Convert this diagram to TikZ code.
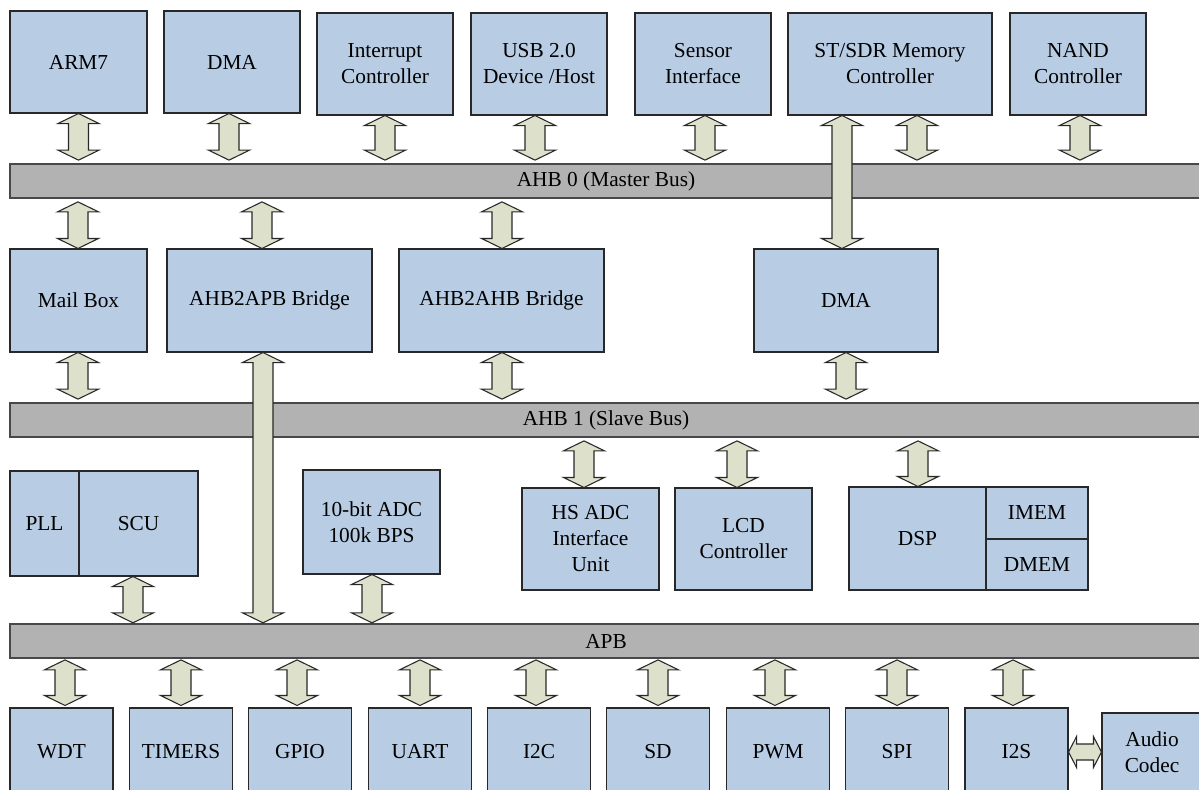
\documentclass[tikz,border=0pt]{standalone}
\usepackage{fontspec}
\setmainfont{Liberation Serif}
\usetikzlibrary{calc}
\definecolor{blockfill}{RGB}{184,204,228}
\definecolor{busfill}{RGB}{178,178,178}
\definecolor{linkfill}{RGB}{221,224,203}
\definecolor{edgeline}{RGB}{40,40,40}
\tikzset{
  sz/.style 2 args={minimum width=#1*0.75pt, minimum height=#2*0.75pt},
  block/.style={draw=edgeline, fill=blockfill, line width=0.8pt, inner sep=0pt,
    align=center, font=\fontsize{16}{19.5}\selectfont},
  bus/.style={draw=edgeline!85, fill=busfill, line width=0.8pt, inner sep=0pt,
    font=\fontsize{16}{19.5}\selectfont},
  dblarrow/.style={draw=edgeline, fill=linkfill, line width=0.8pt, line join=miter},
}
% vertical block arrow: #1 upper end, #2 lower end (x taken from #1),
% #3 / #4 gaps left free at the upper / lower end
\newcommand\vfat[4]{%
  \path[dblarrow] let \p1=(#1), \p2=(#2) in
   (\x1,\y1-#3) -- (\x1+15.4pt,\y1-#3-7.5pt) -- (\x1+7.5pt,\y1-#3-7.5pt)
   -- (\x1+7.5pt,\y2+#4+7.5pt) -- (\x1+15.4pt,\y2+#4+7.5pt) -- (\x1,\y2+#4)
   -- (\x1-15.4pt,\y2+#4+7.5pt) -- (\x1-7.5pt,\y2+#4+7.5pt)
   -- (\x1-7.5pt,\y1-#3-7.5pt) -- (\x1-15.4pt,\y1-#3-7.5pt) -- cycle;}
% horizontal block arrow: #1 left end, #2 right end (y taken from #1)
\newcommand\hfat[2]{%
  \path[dblarrow] let \p1=(#1), \p2=(#2) in
   (\x1,\y1) -- (\x1+6pt,\y1+11.6pt) -- (\x1+6pt,\y1+6pt)
   -- (\x2-6pt,\y1+6pt) -- (\x2-6pt,\y1+11.6pt) -- (\x2,\y1)
   -- (\x2-6pt,\y1-11.6pt) -- (\x2-6pt,\y1-6pt)
   -- (\x1+6pt,\y1-6pt) -- (\x1+6pt,\y1-11.6pt) -- cycle;}

\begin{document}
\begin{tikzpicture}[x=0.75pt,y=-0.75pt]
\useasboundingbox (0,0) rectangle (1199,789);
\fill[white] (0,0) rectangle (1199,789);
\clip (0,0) rectangle (1199,789);

% ---- masters on top
\node[block, sz={137}{102}] (arm)    at (78.5,62) {ARM7};
\node[block, sz={136}{102}] (dmaA)   at (232,62)  {DMA};
\node[block, sz={136}{102}] (intc)   at (385,64)  {Interrupt\\Controller};
\node[block, sz={136}{102}] (usb)    at (539,64)  {USB 2.0\\Device /Host};
\node[block, sz={136}{102}] (sensor) at (703,64)  {Sensor\\Interface};
\node[block, sz={204}{102}] (sdr)    at (890,64)  {ST/SDR Memory\\Controller};
\node[block, sz={136}{102}] (nand)   at (1078,64) {NAND\\Controller};

% ---- buses
\node[bus, sz={1192}{34}] (ahb0) at (606,181) {AHB 0 (Master Bus)};
\node[bus, sz={1192}{34}] (ahb1) at (606,420) {AHB 1 (Slave Bus)};
\node[bus, sz={1192}{34}] (apb)  at (606,641) {APB};

% ---- bridges
\node[block, sz={137}{103}] (mbox)  at (78.5,300.5)  {Mail Box};
\node[block, sz={205}{103}] (a2apb) at (269.5,300.5) {AHB2APB Bridge};
\node[block, sz={205}{103}] (a2ahb) at (501.5,300.5) {AHB2AHB Bridge};
\node[block, sz={184}{103}] (dmaB)  at (846,300.5)   {DMA};

% ---- slaves between AHB 1 and APB
\node[block, sz={69}{105}]  (pll)   at (44.5,523.5)  {PLL};
\node[block, sz={119}{105}] (scu)   at (138.5,523.5) {SCU};
\node[block, sz={137}{104}] (adc)   at (371.5,522)   {10-bit ADC\\100k BPS};
\node[block, sz={137}{102}] (hsadc) at (590.5,539)   {HS ADC\\Interface\\Unit};
\node[block, sz={137}{102}] (lcd)   at (743.5,539)   {LCD\\Controller};
\node[block, sz={137}{103}] (dsp)   at (917.5,538.5) {DSP};
\node[block, sz={102}{52}]  (imem)  at (1037,513)    {IMEM};
\node[block, sz={102}{51}]  (dmem)  at (1037,564.5)  {DMEM};

% ---- peripherals on APB
\node[block, sz={103}{88}] (wdt)    at (61.5,752) {WDT};
\node[block, sz={103}{88}] (timers) at (181,752)  {TIMERS};
\node[block, sz={103}{88}] (gpio)   at (300,752)  {GPIO};
\node[block, sz={103}{88}] (uart)   at (420,752)  {UART};
\node[block, sz={103}{88}] (iic)    at (539,752)  {I2C};
\node[block, sz={103}{88}] (sd)     at (658,752)  {SD};
\node[block, sz={103}{88}] (pwm)    at (778,752)  {PWM};
\node[block, sz={103}{88}] (spi)    at (897,752)  {SPI};
\node[block, sz={103}{88}] (iis)    at (1016.5,752) {I2S};
\node[block, sz={100}{78}] (codec)  at (1152,752) {Audio\\Codec};

% ---- block arrows: masters <-> AHB 0
\vfat{arm.south}{ahb0.north}{0pt}{2.5pt}
\vfat{dmaA.south -| 229,0}{ahb0.north}{0pt}{2.5pt}
\vfat{intc.south}{ahb0.north}{0pt}{2.5pt}
\vfat{usb.south -| 535,0}{ahb0.north}{0pt}{2.5pt}
\vfat{sensor.south -| 705,0}{ahb0.north}{0pt}{2.5pt}
\vfat{sdr.south -| 917,0}{ahb0.north}{0pt}{2.5pt}
\vfat{nand.south -| 1080,0}{ahb0.north}{0pt}{2.5pt}

% ---- AHB 0 <-> bridges
\vfat{ahb0.south -| 78,0}{mbox.north}{2.5pt}{0pt}
\vfat{ahb0.south -| 262,0}{a2apb.north}{2.5pt}{0pt}
\vfat{ahb0.south -| 502,0}{a2ahb.north}{2.5pt}{0pt}

% ---- bridges <-> AHB 1
\vfat{mbox.south -| 78,0}{ahb1.north}{0pt}{2.5pt}
\vfat{a2ahb.south -| 502,0}{ahb1.north}{0pt}{2.5pt}
\vfat{dmaB.south}{ahb1.north}{0pt}{2.5pt}

% ---- AHB 1 <-> slaves
\vfat{ahb1.south -| 584,0}{hsadc.north}{2.5pt}{0pt}
\vfat{ahb1.south -| 737,0}{lcd.north}{2.5pt}{0pt}
\vfat{ahb1.south -| 918,0}{dsp.north}{2.5pt}{0pt}

% ---- slaves <-> APB
\vfat{scu.south -| 133,0}{apb.north}{0pt}{0.5pt}
\vfat{adc.south -| 372,0}{apb.north}{0pt}{0.5pt}

% ---- long links crossing a bus
\vfat{sdr.south -| 842,0}{dmaB.north}{0pt}{0pt}
\vfat{a2apb.south -| 263,0}{apb.north}{0pt}{0.5pt}

% ---- APB <-> peripherals
\vfat{apb.south -| 65,0}{wdt.north}{1pt}{1.5pt}
\vfat{apb.south -| 181,0}{timers.north}{1pt}{1.5pt}
\vfat{apb.south -| 297,0}{gpio.north}{1pt}{1.5pt}
\vfat{apb.south -| 420,0}{uart.north}{1pt}{1.5pt}
\vfat{apb.south -| 536,0}{iic.north}{1pt}{1.5pt}
\vfat{apb.south -| 658,0}{sd.north}{1pt}{1.5pt}
\vfat{apb.south -| 775,0}{pwm.north}{1pt}{1.5pt}
\vfat{apb.south -| 897,0}{spi.north}{1pt}{1.5pt}
\vfat{apb.south -| 1013,0}{iis.north}{1pt}{1.5pt}

% ---- I2S <-> Audio Codec
\hfat{iis.east |- 0,752}{codec.west |- 0,752}
\end{tikzpicture}
\end{document}
